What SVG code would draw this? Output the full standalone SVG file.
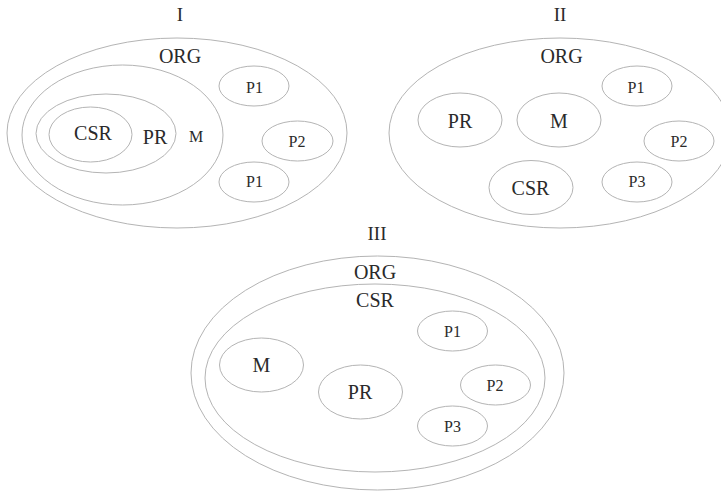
<svg xmlns="http://www.w3.org/2000/svg" width="721" height="491" viewBox="0 0 721 491">
<style>
  ellipse { fill: none; stroke: #b4b4b4; stroke-width: 1; }
  text { font-family: "Liberation Serif", "DejaVu Serif", serif; fill: #2a2a2a; text-anchor: middle; }
  .big { font-size: 20px; }
  .sm { font-size: 16px; }
  .title { font-size: 19px; }
</style>
<rect width="721" height="491" fill="#ffffff"/>

<!-- Diagram I -->
<g id="diagram-I">
  <text class="title" x="180" y="21">I</text>
  <g id="I-ORG">
    <ellipse cx="177" cy="133" rx="170" ry="95"/>
    <text class="big" x="180" y="63">ORG</text>
  </g>
  <g id="I-M">
    <ellipse cx="122.5" cy="135" rx="100.5" ry="70"/>
    <text class="sm" x="196" y="142">M</text>
  </g>
  <g id="I-PR">
    <ellipse cx="106" cy="133.5" rx="70" ry="39.5"/>
    <text class="big" x="155" y="144">PR</text>
  </g>
  <g id="I-CSR">
    <ellipse cx="90.5" cy="134.5" rx="41.5" ry="27.5"/>
    <text class="big" x="93" y="140">CSR</text>
  </g>
  <g id="I-P1a">
    <ellipse cx="254" cy="86" rx="35" ry="20"/>
    <text class="sm" x="254.5" y="93">P1</text>
  </g>
  <g id="I-P2">
    <ellipse cx="297.5" cy="141" rx="35.5" ry="20"/>
    <text class="sm" x="297" y="147">P2</text>
  </g>
  <g id="I-P1b">
    <ellipse cx="254" cy="182" rx="35" ry="20"/>
    <text class="sm" x="254.5" y="187">P1</text>
  </g>
</g>

<!-- Diagram II -->
<g id="diagram-II">
  <text class="title" x="560" y="21">II</text>
  <g id="II-ORG">
    <ellipse cx="560" cy="133" rx="171" ry="95"/>
    <text class="big" x="561.5" y="63">ORG</text>
  </g>
  <g id="II-PR">
    <ellipse cx="460" cy="120" rx="42" ry="27"/>
    <text class="big" x="460" y="128">PR</text>
  </g>
  <g id="II-M">
    <ellipse cx="559" cy="120" rx="42" ry="27"/>
    <text class="big" x="559" y="128">M</text>
  </g>
  <g id="II-CSR">
    <ellipse cx="531" cy="187.5" rx="42" ry="27"/>
    <text class="big" x="530.5" y="195">CSR</text>
  </g>
  <g id="II-P1">
    <ellipse cx="637" cy="86" rx="35" ry="20"/>
    <text class="sm" x="636" y="93">P1</text>
  </g>
  <g id="II-P2">
    <ellipse cx="679" cy="141" rx="35" ry="20"/>
    <text class="sm" x="679" y="147">P2</text>
  </g>
  <g id="II-P3">
    <ellipse cx="637" cy="182" rx="35" ry="20"/>
    <text class="sm" x="637" y="187">P3</text>
  </g>
</g>

<!-- Diagram III -->
<g id="diagram-III">
  <text class="title" x="377" y="240">III</text>
  <g id="III-ORG">
    <ellipse cx="377.5" cy="373" rx="186.5" ry="117"/>
    <text class="big" x="375" y="279">ORG</text>
  </g>
  <g id="III-CSR">
    <ellipse cx="375" cy="378" rx="170" ry="94"/>
    <text class="big" x="375" y="307">CSR</text>
  </g>
  <g id="III-M">
    <ellipse cx="261.5" cy="365" rx="42" ry="27"/>
    <text class="big" x="261.5" y="372">M</text>
  </g>
  <g id="III-PR">
    <ellipse cx="360.5" cy="392" rx="42" ry="27"/>
    <text class="big" x="360" y="399">PR</text>
  </g>
  <g id="III-P1">
    <ellipse cx="452.5" cy="331" rx="35" ry="20"/>
    <text class="sm" x="452.5" y="337">P1</text>
  </g>
  <g id="III-P2">
    <ellipse cx="495.5" cy="385" rx="35" ry="20"/>
    <text class="sm" x="495" y="391">P2</text>
  </g>
  <g id="III-P3">
    <ellipse cx="452.5" cy="426" rx="35" ry="20"/>
    <text class="sm" x="452.5" y="432">P3</text>
  </g>
</g>
</svg>
